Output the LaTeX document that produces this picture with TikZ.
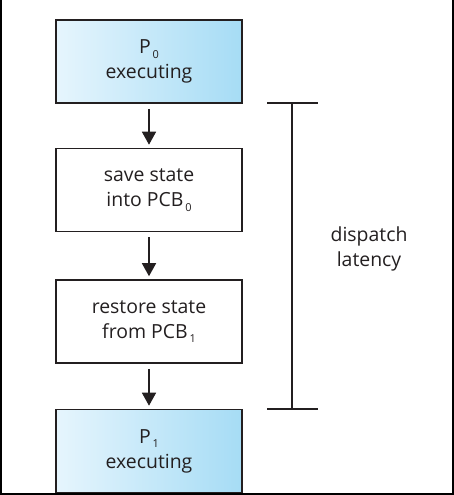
\documentclass[tikz,border=0pt]{standalone}
\usepackage{fontspec}
\setmainfont{Open Sans}
\usetikzlibrary{arrows.meta}
\definecolor{ink}{HTML}{231F20}
\definecolor{lightblue}{HTML}{E6F5FD}
\definecolor{deepblue}{HTML}{A6DCF5}
\newcommand{\lowidx}[1]{\raisebox{-0.45ex}{\fontsize{11}{11}\selectfont\,#1}}
\begin{document}
\begin{tikzpicture}[x=1bp,y=-1bp,
  stepbox/.style={draw=ink, line width=1.6bp, minimum width=186bp, minimum height=83bp,
    inner sep=0pt, align=center, font=\fontsize{19.5}{25}\selectfont, text=ink},
  runbox/.style={stepbox, left color=lightblue, right color=deepblue},
  flow/.style={draw=ink, line width=1.6bp, -{Triangle[length=13bp,width=14bp]},
    shorten <=5bp, shorten >=3bp},
  span/.style={draw=ink, line width=1.4bp},
  frame/.style={draw=black, line width=2bp}]
\useasboundingbox (0,0) rectangle (454,495);

% process / kernel steps
\node[runbox]  (p0)      at (149,61.5)  {P\lowidx{0}\\executing};
\node[stepbox] (save)    at (149,190)   {save state\\into PCB\lowidx{0}};
\node[stepbox] (restore) at (149,321.5) {restore state\\from PCB\lowidx{1}};
\node[runbox]  (p1)      at (149,451)   {P\lowidx{1}\\executing};

\draw[flow] (p0) -- (save);
\draw[flow] (save) -- (restore);
\draw[flow] (restore) -- (p1);

% dispatch latency bracket
\coordinate (top)  at (292,103);
\coordinate (bot)  at (292,409);
\coordinate (tl) at (267,103);
\coordinate (tr) at (318,103);
\coordinate (bl) at (267,409);
\coordinate (br) at (318,409);
\draw[span] (top) -- (bot);
\draw[span] (tl) -- (tr);
\draw[span] (bl) -- (br);
\node[align=center, text=ink, font=\fontsize{19.5}{25}\selectfont] (lat) at (369,249) {dispatch\\latency};

% outer frame
\draw[frame] (1,0) -- (1,494) -- (453,494) -- (453,0);
\end{tikzpicture}
\end{document}
